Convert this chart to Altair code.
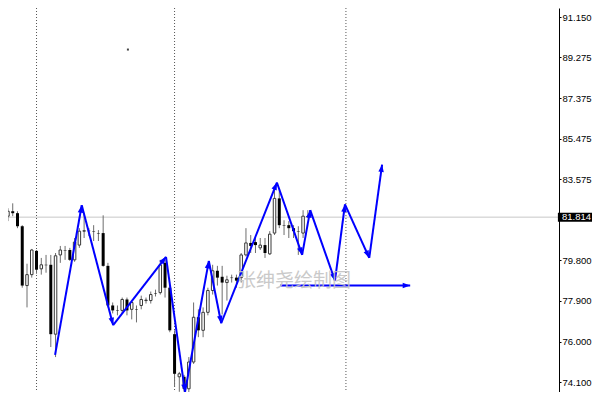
import math
import altair as alt
import pandas as pd

# ---------------- data ----------------
opens = [81.86, 82.09, 82.00, 81.39, 78.62, 79.13, 80.24, 79.40, 79.59, 79.59,
         76.35, 80.05, 80.28, 80.28, 79.82, 80.51, 81.16, 81.18, 81.16, 81.07,
         81.07, 79.54, 77.69, 77.46, 77.46, 77.97, 77.51, 77.51, 77.69, 77.92,
         77.92, 78.25, 78.29, 79.68, 78.52, 76.35, 74.36, 74.36, 73.80, 75.05,
         77.14, 76.53, 77.37, 78.39, 79.31, 79.03, 78.76, 78.99, 78.99, 78.99,
         80.05, 80.61, 80.65, 80.38, 80.51, 80.10, 81.07, 82.69, 81.44, 81.44,
         81.30, 81.16, 81.07, 81.86]
highs = [82.23, 82.46, 82.09, 81.44, 79.64, 80.33, 80.28, 79.91, 80.05, 80.05,
         80.14, 80.47, 80.47, 80.38, 80.84, 81.30, 82.00, 81.30, 81.44, 81.21,
         81.90, 79.68, 77.83, 77.69, 78.06, 78.06, 77.92, 77.69, 78.15, 78.06,
         78.34, 78.43, 79.82, 79.82, 78.62, 76.53, 74.59, 74.45, 75.28, 77.83,
         77.51, 77.60, 78.52, 79.59, 79.54, 79.54, 79.08, 79.13, 79.13, 80.14,
         81.30, 80.98, 80.84, 80.84, 80.84, 81.16, 83.15, 83.15, 81.67, 81.63,
         81.44, 81.39, 82.14, 82.14]
lows = [81.63, 81.86, 81.30, 78.52, 77.60, 78.99, 79.17, 79.13, 79.22, 75.75,
        75.28, 79.68, 79.82, 79.77, 79.73, 80.38, 80.84, 80.93, 80.70, 80.70,
        79.50, 77.60, 77.32, 77.23, 77.32, 77.23, 77.04, 76.90, 77.51, 77.78,
        77.78, 78.11, 78.20, 78.06, 76.44, 73.89, 73.66, 73.66, 73.57, 74.96,
        76.21, 76.21, 77.23, 78.20, 78.62, 77.27, 77.92, 78.76, 78.52, 78.76,
        79.98, 80.14, 80.14, 80.28, 79.91, 80.05, 80.98, 81.30, 80.98, 80.84,
        80.84, 80.05, 80.84, 81.77]
closes = [82.09, 82.00, 81.39, 78.62, 79.13, 80.28, 79.36, 79.59, 79.57, 76.35,
          80.01, 80.28, 80.26, 79.82, 80.65, 81.16, 81.18, 81.16, 81.14, 81.05,
          79.54, 77.69, 77.46, 77.44, 77.97, 77.46, 77.83, 77.49, 77.97, 77.94,
          78.20, 78.23, 79.59, 78.52, 76.53, 74.50, 74.50, 73.80, 75.05, 77.14,
          76.53, 77.37, 78.39, 79.31, 78.99, 78.76, 78.89, 78.97, 78.85, 80.05,
          80.61, 80.47, 80.51, 80.51, 80.14, 81.02, 82.69, 81.44, 81.42, 81.30,
          81.16, 81.14, 81.86, 81.81]
bar_index = list(range(1, len(opens) + 1))

# zigzag turning points (bar position, price)
zz_x = [10.9, 16.5, 23.1, 34.2, 38.2, 43.2, 45.8, 57.5, 62.8, 64.5, 69.7, 71.8, 76.9, 79.6]
zz_y = [75.38, 82.37, 76.77, 79.96, 73.66, 79.77, 76.86, 83.43, 80.05, 82.14, 78.85, 82.41, 79.91, 84.27]
# horizontal arrow
hl_x = [58.2, 85.5]
hl_price = 78.62

separators = [7, 36, 72]
current_price = 81.814
tick_values = [74.100, 76.000, 77.900, 79.800, 83.575, 85.475, 87.375, 89.275, 91.150]
watermark = "张绅尧绘制图"
stray_dot = (26.2, 89.64)

# ---------------- layout ----------------
W, H = 551, 384
RIGHT = 33
X_DOM = [1.008, 1.008 + W / 4.76]
Y_DOM = [73.65, 91.58]
PX_X = W / (X_DOM[1] - X_DOM[0])
PX_Y = H / (Y_DOM[1] - Y_DOM[0])
xs = alt.Scale(domain=X_DOM, nice=False, zero=False, padding=0)
ys = alt.Scale(domain=Y_DOM, nice=False, zero=False, padding=0)
BLUE = "#0000ff"
FONT = "Liberation Sans"

yaxis = alt.Axis(orient="right", values=tick_values, format=".3f", title=None, grid=False,
                 labelFont=FONT, labelFontSize=9.5, labelColor="#000000",
                 tickColor="#000000", tickSize=2, domainColor="#000000",
                 labelPadding=1, labelOverlap=False, labelFlush=False)

candles = pd.DataFrame({"i": bar_index, "open": opens, "high": highs,
                        "low": lows, "close": closes})
candles["bull"] = candles["close"] >= candles["open"]

segs = pd.DataFrame({
    "x": zz_x[:-1] + [hl_x[0]],
    "y": zz_y[:-1] + [hl_price],
    "x2": zz_x[1:] + [hl_x[1]],
    "y2": zz_y[1:] + [hl_price],
})
segs["angle"] = [
    (math.degrees(math.atan2((r.x2 - r.x) * PX_X, (r.y2 - r.y) * PX_Y)) + 360) % 360
    for r in segs.itertuples()
]


def X(f):
    return alt.X(f, scale=xs, axis=None)


def Y(f):
    return alt.Y(f, scale=ys, axis=yaxis)


price_line = alt.Chart(pd.DataFrame({"p": [current_price]})).mark_rule(
    color="#c8c8c8", strokeWidth=1).encode(y=Y("p:Q"))

seps = alt.Chart(pd.DataFrame({"s": separators})).mark_rule(
    color="#555555", strokeWidth=1, strokeDash=[1, 2], clip=True).encode(x=X("s:Q"))

wicks = alt.Chart(candles).mark_rule(color="#6e6e6e", strokeWidth=1, clip=True).encode(
    x=X("i:Q"), y=Y("low:Q"), y2="high:Q")

bear = alt.Chart(candles).transform_filter("!datum.bull").mark_bar(
    width=3, color="#000000", clip=True).encode(
    x=X("i:Q"), y=Y("open:Q"), y2="close:Q")

bull = alt.Chart(candles).transform_filter("datum.bull").mark_bar(
    width=2.5, fill="#ffffff", stroke="#3a3a3a", strokeWidth=1, clip=True).encode(
    x=X("i:Q"), y=Y("open:Q"), y2="close:Q")

lines = alt.Chart(segs).mark_rule(color=BLUE, strokeWidth=2, clip=True).encode(
    x=X("x:Q"), y=Y("y:Q"), x2="x2:Q", y2="y2:Q")

heads = alt.Chart(segs).mark_point(
    shape="M0,0 L0.55,1.5 L-0.55,1.5 Z", size=100, filled=True, color=BLUE,
    opacity=1, strokeWidth=0, clip=True).encode(
    x=X("x2:Q"), y=Y("y2:Q"), angle=alt.Angle("angle:Q", scale=None))

dot = alt.Chart(pd.DataFrame({"x": [stray_dot[0]], "y": [stray_dot[1]]})).mark_square(
    size=4, color="#444444", opacity=1).encode(x=X("x:Q"), y=Y("y:Q"))

wm = alt.Chart(pd.DataFrame({"x": [61.1], "y": [78.83], "t": [watermark]})).mark_text(
    font="Noto Sans CJK SC", fontSize=19, color="#c4c4c4", align="center",
    baseline="middle", opacity=0.9).encode(x=X("x:Q"), y=Y("y:Q"), text="t:N")

cp = pd.DataFrame({"p": [current_price], "t": [f"{current_price:.3f}"]})
box = alt.Chart(cp).mark_point(
    shape="M-1.9,-0.5 L1.9,-0.5 L1.9,0.5 L-1.9,0.5 Z", size=324, filled=True,
    color="#000000", opacity=1, strokeWidth=0).encode(
    x=alt.value(W + 16), y=Y("p:Q"))
box_txt = alt.Chart(cp).mark_text(
    font=FONT, fontSize=9.5, color="#ffffff", align="left", baseline="middle").encode(
    x=alt.value(W + 3), y=Y("p:Q"), text="t:N")

chart = alt.layer(price_line, seps, wicks, bear, bull, lines, heads, dot, wm, box, box_txt
                  ).properties(
    width=W, height=H, background="#ffffff",
    padding={"left": 0, "top": 0, "right": RIGHT, "bottom": 0},
    autosize=alt.AutoSizeParams(type="none"),
).configure_view(strokeWidth=0)

chart.save("out.html", embed_options={"renderer": "svg", "actions": False})
